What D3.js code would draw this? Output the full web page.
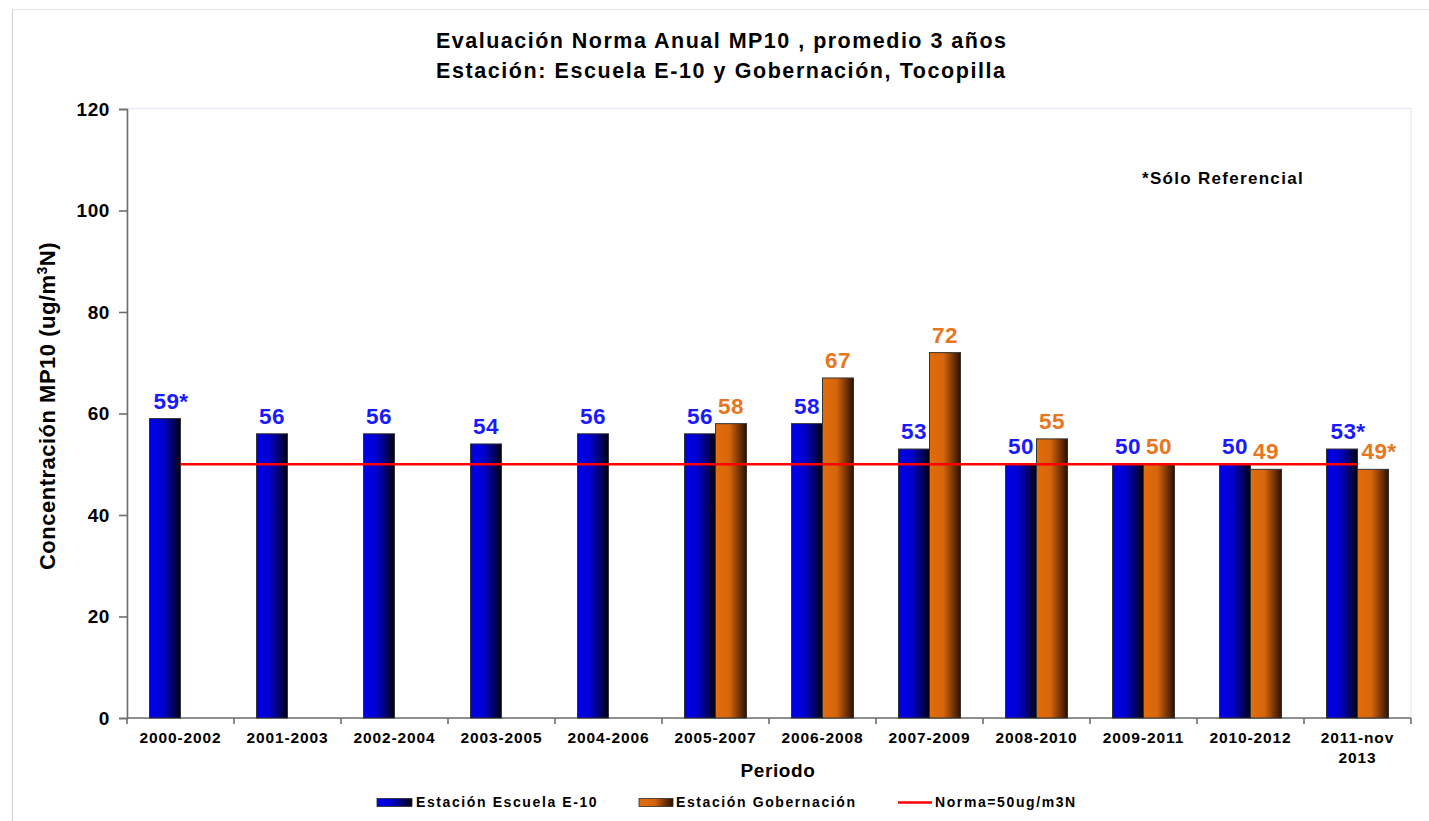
<!DOCTYPE html>
<html>
<head>
<meta charset="utf-8">
<script src="https://cdn.jsdelivr.net/npm/d3@7"></script>
<style>
  html, body { margin: 0; padding: 0; background: #fff; }
  svg { display: block; font-family: "Liberation Sans", Arial, sans-serif; }
</style>
</head>
<body>
<svg id="chart" width="1429" height="821"></svg>
<script>
// Periods evaluated (3-year rolling averages)
const periods = ["2000-2002", "2001-2003", "2002-2004", "2003-2005", "2004-2006", "2005-2007",
                 "2006-2008", "2007-2009", "2008-2010", "2009-2011", "2010-2012", "2011-nov 2013"];

// Annual MP10 average, ug/m3N
const escuelaE10   = [59, 56, 56, 54, 56, 56, 58, 53, 50, 50, 50, 53];
const gobernacion  = [null, null, null, null, null, 58, 67, 72, 55, 50, 49, 49];

// Values flagged as reference only (shown with "*")
const escuelaRef   = [true, false, false, false, false, false, false, false, false, false, false, true];
const gobernRef    = [false, false, false, false, false, false, false, false, false, false, false, true];

const yTicks = [0, 20, 40, 60, 80, 100, 120];
const normaValue = 50;

const seriesNames = ["Estación Escuela E-10", "Estación Gobernación"];
const normaLabel = "Norma=50ug/m3N";

const svg = d3.select("#chart");

// plot area
const plot = { left: 127, right: 1411, top: 109, bottom: 718 };

const x0 = d3.scaleBand().domain(periods).range([plot.left, plot.right]).padding(0);
const x1 = d3.scaleBand().domain([0, 1]).range([0, x0.bandwidth()]).paddingInner(0).paddingOuter(0.726);
const y = d3.scaleLinear().domain([0, 120]).range([plot.bottom, plot.top]);

// gradients for the bars
const defs = svg.append("defs");
function grad(id, stops) {
  const g = defs.append("linearGradient").attr("id", id).attr("x1", "0").attr("x2", "1").attr("y1", "0").attr("y2", "0");
  stops.forEach(s => g.append("stop").attr("offset", s[0]).attr("stop-color", s[1]));
}
grad("gBlue", [["0%", "#0000ea"], ["40%", "#0000d2"], ["72%", "#000070"], ["100%", "#000008"]]);
grad("gOrange", [["0%", "#e36c0a"], ["45%", "#d6660c"], ["75%", "#7a3606"], ["100%", "#2a1102"]]);

// outer chart frame
svg.append("line").attr("x1", 12.5).attr("x2", 12.5).attr("y1", 9).attr("y2", 821)
  .attr("stroke", "#d0d0d0").attr("stroke-width", 1);
svg.append("line").attr("x1", 12).attr("x2", 1429).attr("y1", 9.5).attr("y2", 9.5)
  .attr("stroke", "#e4e4e4").attr("stroke-width", 1);

// plot area border
svg.append("rect").attr("x", plot.left).attr("y", plot.top - 0.5)
  .attr("width", plot.right - plot.left).attr("height", plot.bottom - plot.top + 0.5)
  .attr("fill", "none").attr("stroke", "#e3eaf6").attr("stroke-width", 1.2);

// title
const title = svg.append("g").attr("font-weight", "bold").attr("font-size", 21.5).attr("fill", "#000")
  .attr("text-anchor", "middle");
title.append("text").attr("x", 721).attr("y", 48)
  .attr("textLength", 570).attr("lengthAdjust", "spacing")
  .text("Evaluación Norma Anual MP10 , promedio 3 años");
title.append("text").attr("x", 720.5).attr("y", 78)
  .attr("textLength", 569).attr("lengthAdjust", "spacing")
  .text("Estación: Escuela E-10 y  Gobernación, Tocopilla");

// y axis
const yAxis = svg.append("g").attr("transform", `translate(${plot.left},0)`)
  .call(d3.axisLeft(y).tickValues(yTicks).tickSize(8).tickPadding(9).tickFormat(d3.format("d")));
yAxis.select(".domain").attr("stroke", "#6e6e6e").attr("stroke-width", 1.6);
yAxis.selectAll(".tick line").attr("stroke", "#6e6e6e").attr("stroke-width", 1.6);
yAxis.selectAll(".tick text").attr("font-size", 19).attr("font-weight", "bold").attr("fill", "#000")
  .attr("font-family", "'Liberation Sans', Arial, sans-serif").attr("letter-spacing", 0.6);

// y axis title
const yTitle = svg.append("text").attr("transform", "translate(55,406) rotate(-90)")
  .attr("text-anchor", "middle").attr("font-size", 22).attr("font-weight", "bold").attr("letter-spacing", 0.5);
yTitle.append("tspan").text("Concentración MP10 (ug/m");
yTitle.append("tspan").attr("font-size", 14).attr("dy", -8).text("3");
yTitle.append("tspan").attr("dy", 8).text("N)");

// x axis
const xAxisG = svg.append("g");
xAxisG.append("line").attr("x1", plot.left).attr("x2", plot.right)
  .attr("y1", plot.bottom).attr("y2", plot.bottom).attr("stroke", "#6e6e6e").attr("stroke-width", 1.6);
const tickPos = periods.map(p => x0(p)).concat([plot.right]);
xAxisG.selectAll("line.tk").data(tickPos).join("line").attr("class", "tk")
  .attr("x1", d => d).attr("x2", d => d).attr("y1", plot.bottom).attr("y2", plot.bottom + 6)
  .attr("stroke", "#6e6e6e").attr("stroke-width", 1.6);
const xLabels = xAxisG.selectAll("text.xl").data(periods).join("text").attr("class", "xl")
  .attr("x", d => x0(d) + x0.bandwidth() / 2).attr("y", 743)
  .attr("text-anchor", "middle").attr("font-size", 15.5).attr("font-weight", "bold").attr("letter-spacing", 0.9);
xLabels.each(function(d) {
  const parts = d.split(" ");
  const t = d3.select(this);
  parts.forEach((p, i) => t.append("tspan").attr("x", x0(d) + x0.bandwidth() / 2).attr("dy", i ? 19.7 : 0).text(p));
});

svg.append("text").attr("x", 778).attr("y", 777).attr("text-anchor", "middle")
  .attr("font-size", 19).attr("font-weight", "bold").attr("letter-spacing", 0.6).text("Periodo");

// bars
const rows = [];
periods.forEach((p, i) => {
  rows.push({ period: p, s: 0, v: escuelaE10[i], ref: escuelaRef[i] });
  if (gobernacion[i] != null) rows.push({ period: p, s: 1, v: gobernacion[i], ref: gobernRef[i] });
});

svg.append("g").selectAll("rect").data(rows).join("rect")
  .attr("x", d => x0(d.period) + x1(d.s))
  .attr("width", x1.bandwidth())
  .attr("y", d => y(d.v))
  .attr("height", d => y(0) - y(d.v))
  .attr("fill", d => d.s === 0 ? "url(#gBlue)" : "url(#gOrange)")
  .attr("stroke", "#333").attr("stroke-width", 1);

// norma line, spanning from first to last period centre
svg.append("line")
  .attr("x1", x0(periods[0]) + x0.bandwidth() / 2)
  .attr("x2", x0(periods[periods.length - 1]) + x0.bandwidth() / 2)
  .attr("y1", y(normaValue)).attr("y2", y(normaValue))
  .attr("stroke", "#ff0000").attr("stroke-width", 2.5);

// value labels
svg.append("g").selectAll("text").data(rows).join("text")
  .attr("x", d => x0(d.period) + x1(d.s) + x1.bandwidth() / 2 + (d.ref ? 6 : 0))
  .attr("y", d => y(d.v) - 10)
  .attr("text-anchor", "middle").attr("font-size", 22.5).attr("font-weight", "bold")
  .attr("letter-spacing", 0.4)
  .attr("fill", d => d.s === 0 ? "#1a1aff" : "#e8761e")
  .text(d => d.v + (d.ref ? "*" : ""));

// note
svg.append("text").attr("x", 1142).attr("y", 184).attr("font-size", 17).attr("font-weight", "bold")
  .attr("letter-spacing", 1.3).text("*Sólo Referencial");

// legend
const lg = svg.append("g").attr("font-size", 14).attr("font-weight", "bold").attr("letter-spacing", 1.6);
lg.append("rect").attr("x", 377).attr("y", 798.5).attr("width", 35).attr("height", 8)
  .attr("fill", "url(#gBlue)").attr("stroke", "#2a2a2a").attr("stroke-width", 0.8);
lg.append("text").attr("x", 416).attr("y", 807).text(seriesNames[0]);
lg.append("rect").attr("x", 639).attr("y", 798.5).attr("width", 34).attr("height", 8)
  .attr("fill", "url(#gOrange)").attr("stroke", "#2a2a2a").attr("stroke-width", 0.8);
lg.append("text").attr("x", 676).attr("y", 807).text(seriesNames[1]);
lg.append("line").attr("x1", 898).attr("x2", 932).attr("y1", 802.5).attr("y2", 802.5)
  .attr("stroke", "#ff0000").attr("stroke-width", 2.5);
lg.append("text").attr("x", 935).attr("y", 807).text(normaLabel);
</script>
</body>
</html>
